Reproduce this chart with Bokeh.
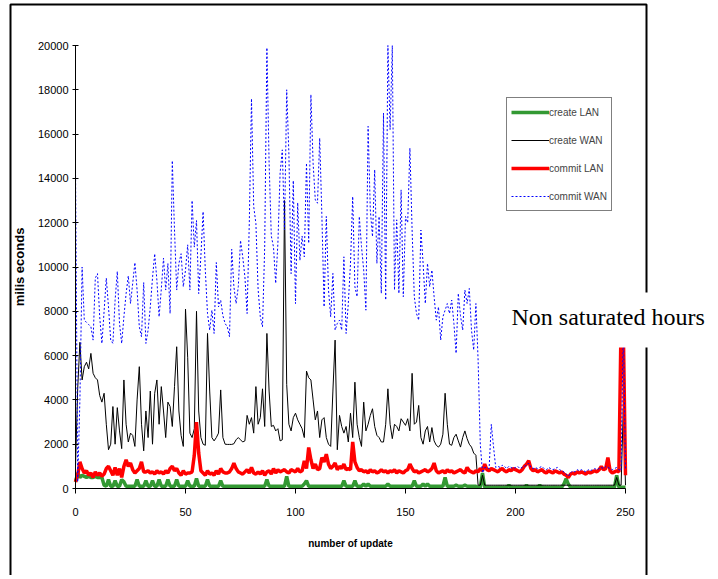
from bokeh.plotting import figure
from bokeh.models import Legend, LegendItem, Label, BoxAnnotation, FixedTicker, Range1d
from bokeh.embed import file_html
from bokeh.resources import INLINE

updates = list(range(251))

create_lan = [
    300, 700, 500, 600, 550, 500, 550, 500, 500, 550,
    500, 500, 500, 150, 100, 400, 100, 100, 350, 100,
    100, 400, 300, 100, 100, 100, 100, 100, 400, 100,
    100, 100, 350, 100, 100, 350, 100, 100, 400, 100,
    100, 100, 400, 100, 100, 100, 400, 100, 100, 100,
    100, 350, 100, 100, 100, 450, 100, 100, 100, 100,
    400, 100, 100, 100, 100, 100, 350, 100, 100, 100,
    100, 100, 100, 100, 100, 100, 100, 100, 100, 100,
    100, 100, 100, 100, 100, 100, 100, 400, 100, 100,
    100, 100, 100, 100, 100, 100, 550, 100, 100, 100,
    100, 100, 100, 100, 200, 350, 100, 100, 100, 100,
    100, 100, 100, 100, 100, 100, 100, 100, 100, 100,
    100, 100, 350, 100, 100, 100, 100, 350, 100, 100,
    100, 200, 100, 200, 100, 100, 100, 100, 100, 100,
    100, 100, 200, 100, 100, 100, 100, 100, 100, 100,
    100, 100, 100, 100, 350, 100, 100, 100, 200, 100,
    200, 100, 100, 100, 100, 100, 100, 100, 500, 100,
    100, 100, 100, 150, 100, 100, 100, 150, 100, 100,
    100, 100, 100, 60, 60, 700, 60, 60, 60, 60,
    60, 60, 60, 60, 60, 60, 60, 150, 60, 60,
    60, 60, 60, 60, 60, 150, 60, 60, 60, 60,
    60, 150, 60, 60, 60, 60, 60, 60, 60, 60,
    60, 60, 200, 450, 200, 60, 60, 60, 60, 60,
    60, 60, 60, 60, 60, 60, 60, 60, 60, 60,
    60, 60, 60, 60, 60, 60, 600, 60, 60, 60,
    60,
]

create_wan = [
    1000, 4500, 6600, 4900, 5500, 5700, 5400, 6100, 5200, 5000,
    4900, 4200, 3900, 4300, 2900, 1750, 2000, 3700, 2000, 3650,
    2600, 1800, 4900, 2900, 2100, 2500, 2400, 1900, 4000, 5500,
    2900, 1700, 3500, 2300, 4400, 2000, 4300, 4900, 2900, 4600,
    3500, 2300, 3900, 3700, 2800, 4600, 6400, 3500, 2400, 1900,
    8100, 5900, 2500, 2300, 2700, 8000, 3500, 2300, 2000, 1950,
    7000, 4400, 2300, 2150, 2300, 2500, 4450, 2300, 2000, 1990,
    1990, 1990, 2020, 2200, 2300, 2200, 2100, 2150, 3300, 2900,
    3200, 2500, 4600, 2900, 3200, 4500, 2800, 7000, 4400, 2800,
    2850, 2600, 2700, 2150, 2200, 13000, 4700, 2900, 2600, 3200,
    3400, 3100, 2900, 2700, 2300, 5300, 5000, 4900, 4000, 3100,
    3500, 2300, 3100, 3200, 2300, 2000, 1900, 4400, 6700, 1750,
    3300, 2800, 2500, 2800, 2100, 3400, 2300, 4800, 2900, 2300,
    1900, 3900, 2600, 2900, 3300, 3600, 2800, 2400, 2300, 2100,
    2100, 2900, 4500, 2900, 2250, 2900, 2800, 2600, 3150, 3000,
    2850, 3150, 2600, 5200, 2900, 3000, 3750, 2300, 2000, 2600,
    2800, 2100, 2750, 2150, 1950, 1870, 2000, 2450, 4300, 2900,
    2000, 1950, 2300, 2450, 2150, 1870, 2300, 2600, 2250, 2000,
    1870, 1600, 1500, 150, 150, 600, 150, 150, 150, 150,
    150, 150, 150, 150, 150, 150, 150, 150, 150, 150,
    150, 150, 150, 150, 150, 150, 150, 150, 150, 150,
    150, 150, 150, 150, 150, 150, 150, 150, 150, 150,
    150, 150, 150, 150, 150, 150, 150, 150, 150, 150,
    150, 150, 150, 150, 150, 150, 150, 150, 150, 150,
    150, 150, 150, 150, 150, 150, 500, 150, 150, 3600,
    150,
]

commit_lan = [
    300, 600, 1200, 900, 700, 800, 600, 700, 500, 750,
    600, 700, 550, 650, 900, 1000, 800, 600, 950, 600,
    900, 500, 1000, 1300, 1000, 1150, 850, 700, 800, 900,
    1200, 750, 750, 800, 700, 750, 650, 800, 700, 750,
    650, 800, 700, 900, 1000, 800, 900, 700, 600, 800,
    650, 700, 700, 750, 1500, 3000, 1600, 800, 700, 600,
    800, 650, 700, 600, 800, 650, 900, 750, 700, 700,
    750, 900, 1150, 900, 750, 700, 650, 750, 850, 700,
    950, 700, 650, 750, 650, 800, 600, 750, 800, 650,
    900, 700, 850, 750, 800, 850, 750, 700, 850, 800,
    750, 900, 750, 800, 1250, 900, 1850, 1300, 900, 1100,
    850, 900, 1400, 1200, 1550, 1100, 900, 1000, 1150, 850,
    1000, 900, 1100, 850, 900, 850, 2100, 1200, 950, 800,
    850, 750, 800, 700, 850, 750, 800, 700, 750, 850,
    750, 800, 700, 800, 750, 850, 700, 800, 750, 700,
    800, 850, 1100, 900, 750, 800, 700, 750, 800, 850,
    750, 800, 900, 1150, 800, 700, 750, 800, 700, 850,
    750, 800, 700, 750, 800, 850, 750, 700, 950, 800,
    750, 700, 800, 750, 900, 800, 1100, 850, 800, 900,
    850, 800, 750, 850, 900, 800, 750, 850, 800, 900,
    850, 800, 750, 850, 1000, 1100, 1250, 900, 800, 850,
    750, 800, 850, 750, 700, 800, 750, 700, 800, 750,
    700, 750, 650, 600, 500, 650, 700, 650, 750, 700,
    750, 700, 650, 750, 700, 750, 800, 750, 850, 1000,
    850, 900, 1400, 800, 700, 750, 800, 750, 7500, 7200,
    600,
]

commit_wan = [
    14500, 300, 4000, 10000, 7600, 7500, 7400, 7300, 6700, 9500,
    9700, 7750, 6550, 8000, 9500, 8200, 6700, 6550, 8500, 9800,
    7450, 6550, 7750, 8800, 9600, 8350, 9260, 10200, 8960, 7300,
    6850, 9300, 6550, 7150, 8200, 9500, 10600, 9400, 7750, 9000,
    10400, 8960, 10160, 7900, 14800, 11670, 8960, 10160, 10600, 9110,
    9860, 11000, 8960, 13000, 10900, 12100, 8800, 10500, 12500, 9860,
    7900, 7150, 8050, 7000, 10200, 8200, 8500, 7800, 7450, 7300,
    6850, 10800, 9100, 8350, 9110, 11200, 10470, 9560, 7900, 12000,
    17600, 12730, 11970, 9000, 7750, 7300, 10900, 19900, 14700, 11400,
    10900, 9260, 11070, 14240, 15290, 11670, 18000, 15100, 9700, 13900,
    8350, 12900, 10300, 11400, 10460, 14690, 11070, 17780, 14690, 13030,
    12880, 15820, 12280, 8200, 12280, 8960, 7750, 9710, 7150, 7450,
    7600, 7150, 10460, 7000, 8350, 10160, 13180, 9110, 8660, 12280,
    10920, 9860, 8050, 16350, 12580, 11370, 14390, 10160, 12280, 8810,
    16950, 8510, 20000, 16200, 20000, 8960, 12130, 8810, 13480, 8660,
    12280, 12000, 15370, 11670, 8660, 7900, 7600, 11670, 10160, 8350,
    10160, 9110, 9860, 8660, 7600, 8200, 6700, 7750, 8050, 8350,
    7900, 8510, 7450, 6100, 8810, 7800, 7150, 8960, 8350, 9030,
    7150, 6250, 8350, 5800, 2000, 700, 950, 950, 900, 2900,
    1900, 950, 1000, 950, 1050, 1000, 900, 1000, 950, 900,
    950, 1000, 900, 950, 1000, 1050, 1150, 950, 900, 950,
    900, 950, 1000, 900, 850, 950, 900, 850, 900, 950,
    850, 800, 750, 650, 550, 700, 800, 750, 850, 800,
    850, 800, 750, 850, 800, 850, 900, 850, 900, 950,
    900, 1000, 950, 900, 850, 900, 950, 850, 800, 7500,
    900,
]

x_ticks = [0, 50, 100, 150, 200, 250]
y_ticks = [0, 2000, 4000, 6000, 8000, 10000, 12000, 14000, 16000, 18000, 20000]
series_names = ["create LAN", "create WAN", "commit LAN", "commit WAN"]

for s in (create_lan, create_wan, commit_lan, commit_wan):
    assert len(s) == len(updates), len(s)

# page geometry: figure at (0,0); plot area 0..250 -> x 75..625, 0..20000 -> y 488..45
W, H = 714, 575
PX_X = (625 - 75) / 250.0
PX_Y = (488 - 45) / 20000.0
SANS = "'Liberation Sans'"

p = figure(width=W, height=H, output_backend="svg", toolbar_location=None,
           x_range=Range1d(-75 / PX_X, (W - 75) / PX_X),
           y_range=Range1d(-(H - 488) / PX_Y, 20000 + 45 / PX_Y),
           min_border_left=0, min_border_right=0, min_border_top=0, min_border_bottom=0)
p.outline_line_color = None
p.xgrid.visible = False
p.ygrid.visible = False
p.background_fill_color = "white"
p.border_fill_color = "white"

xa = p.xaxis[0]
ya = p.yaxis[0]
xa.fixed_location = 0
ya.fixed_location = 0
xa.bounds = (x_ticks[0], x_ticks[-1])
ya.bounds = (y_ticks[0], y_ticks[-1])

for ax in (xa, ya):
    ax.axis_line_color = "black"
    ax.major_tick_line_color = "black"
    ax.minor_tick_line_color = None
    ax.major_label_text_font = SANS
    ax.major_label_text_font_size = "11px"
    ax.major_label_text_color = "black"
    ax.axis_label_text_font = SANS
    ax.axis_label_text_font_style = "bold"
    ax.axis_label_text_color = "black"

xa.ticker = FixedTicker(ticks=x_ticks)
ya.ticker = FixedTicker(ticks=y_ticks)
xa.major_tick_in = 0
xa.major_tick_out = 5
ya.major_tick_in = 3
ya.major_tick_out = 3
xa.major_label_standoff = 14
ya.major_label_standoff = 4
xa.axis_label = "number of update"
ya.axis_label = "milis econds"
xa.axis_label_text_font_size = "10px"
ya.axis_label_text_font_size = "13px"
xa.axis_label_standoff = 19
ya.axis_label_standoff = 8

r_green = p.line(updates, create_lan, line_color="#339933", line_width=3.5)
r_black = p.line(updates, create_wan, line_color="#000000", line_width=1)
r_red = p.line(updates, commit_lan, line_color="#ff0000", line_width=3.5)
r_blue = p.line(updates, commit_wan, line_color="#0000ff", line_width=1, line_dash="2 2")

legend = Legend(items=[LegendItem(label=n, renderers=[r]) for n, r in
                       zip(series_names, [r_green, r_black, r_red, r_blue])],
                location=(506, H - 211))
legend.border_line_color = "black"
legend.border_line_width = 1
legend.background_fill_color = "white"
legend.background_fill_alpha = 1
legend.label_text_font = SANS
legend.label_text_font_size = "10px"
legend.glyph_width = 38
legend.glyph_height = 20
legend.label_height = 20
legend.label_standoff = 0
legend.spacing = 8
legend.padding = 4
legend.margin = 0
p.add_layout(legend)

border = BoxAnnotation(left=(10 - 75) / PX_X, right=(646 - 75) / PX_X,
                       top=20000 + (45 - 4) / PX_Y, bottom=-(600 - 488) / PX_Y,
                       fill_color=None, fill_alpha=0,
                       line_color="black", line_alpha=1, line_width=2)
p.add_layout(border)

note = Label(x=(505 - 75) / PX_X, y=(488 - 292) / PX_Y, text="Non saturated hours",
             anchor="top_left",
             text_font="'Liberation Serif'", text_font_size="24px",
             text_color="black", background_fill_color="white", background_fill_alpha=1,
             padding=(6, 9, 11, 18))
p.add_layout(note)

open("out.html", "w").write(file_html(p, INLINE))
